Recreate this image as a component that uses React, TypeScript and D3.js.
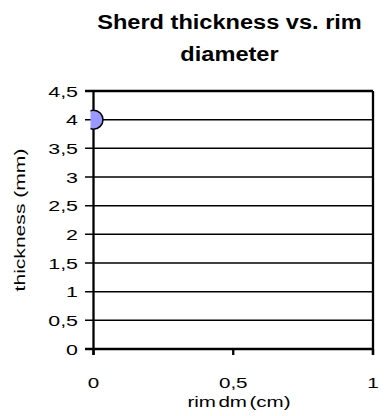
import * as d3 from "d3";
import React from "react";

const title = ["Sherd thickness vs. rim", "diameter"];
const xLabel = "rim dm (cm)";
const yLabel = "thickness (mm)";
const rimDiameter = [0];
const thickness = [4];
const xTicks = [0, 0.5, 1];
const yTicks = [0, 0.5, 1, 1.5, 2, 2.5, 3, 3.5, 4, 4.5];

const W = 391;
const H = 416;
const m = { left: 93.5, right: 18, top: 91, bottom: 67 };
const font = "'Liberation Sans', Arial, sans-serif";
const fmt = (v: number) => String(v).replace(".", ",");

// the original text is drawn noticeably wider than Arial, so stretch along the baseline
const Wide = ({ x, y, sx, rot = 0, anchor = "middle", size, bold = false, children, ws = 0 }: any) => (
  <text
    transform={`translate(${x},${y}) rotate(${rot}) scale(${sx},1)`}
    textAnchor={anchor}
    fontSize={size}
    fontWeight={bold ? "bold" : "normal"}
    wordSpacing={ws}
  >
    {children}
  </text>
);

export default function App() {
  const x = d3.scaleLinear().domain([0, 1]).range([m.left, W - m.right]);
  const y = d3.scaleLinear().domain([0, 4.5]).range([H - m.bottom, m.top]);
  const pts = rimDiameter.map((d, i) => ({ x: d, y: thickness[i] }));

  return (
    <svg
      width={W}
      height={H}
      style={{ position: "absolute", left: 0, top: 0, background: "#fff" }}
      fontFamily={font}
    >
      <defs>
        <clipPath id="plotclip">
          <rect x={x(0) - 3} y={y(4.5) - 20} width={x(1) - x(0) + 6} height={y(0) - y(4.5) + 40} />
        </clipPath>
      </defs>
      {title.map((t, i) => (
        <Wide key={t} x={229.5} y={29 + i * 32} sx={1.21} size={19.5} bold>
          {t}
        </Wide>
      ))}
      {yTicks.map((t) => (
        <g key={t}>
          <line
            x1={x(0) - 8.5}
            x2={x(1)}
            y1={y(t)}
            y2={y(t)}
            stroke="#000"
            strokeWidth={t === 0 || t === 4.5 ? 2.3 : 1.5}
          />
          <Wide x={78} y={y(t) + 5.5} sx={1.38} anchor="end" size={15.5}>
            {fmt(t)}
          </Wide>
        </g>
      ))}
      <line x1={x(0)} x2={x(0)} y1={y(4.5)} y2={y(0) + 6} stroke="#000" strokeWidth={2.3} />
      <line x1={x(1)} x2={x(1)} y1={y(4.5)} y2={y(0) + 6} stroke="#000" strokeWidth={2.3} />
      {xTicks.map((t) => (
        <g key={t}>
          <line x1={x(t)} x2={x(t)} y1={y(0)} y2={y(0) + 6} stroke="#000" strokeWidth={2.3} />
          <Wide x={x(t)} y={388} sx={1.33} size={15.5}>
            {fmt(t)}
          </Wide>
        </g>
      ))}
      <Wide x={239} y={407} sx={1.33} size={15.5} ws={-2.5}>
        {xLabel}
      </Wide>
      <Wide x={25} y={220} rot={-90} sx={1.36} size={15.5}>
        {yLabel}
      </Wide>
      <g clipPath="url(#plotclip)">
        {pts.map((p, i) => (
          <circle key={i} cx={x(p.x)} cy={y(p.y)} r={9.5} fill="#9999FF" stroke="#000" strokeWidth={1.5} />
        ))}
      </g>
    </svg>
  );
}
